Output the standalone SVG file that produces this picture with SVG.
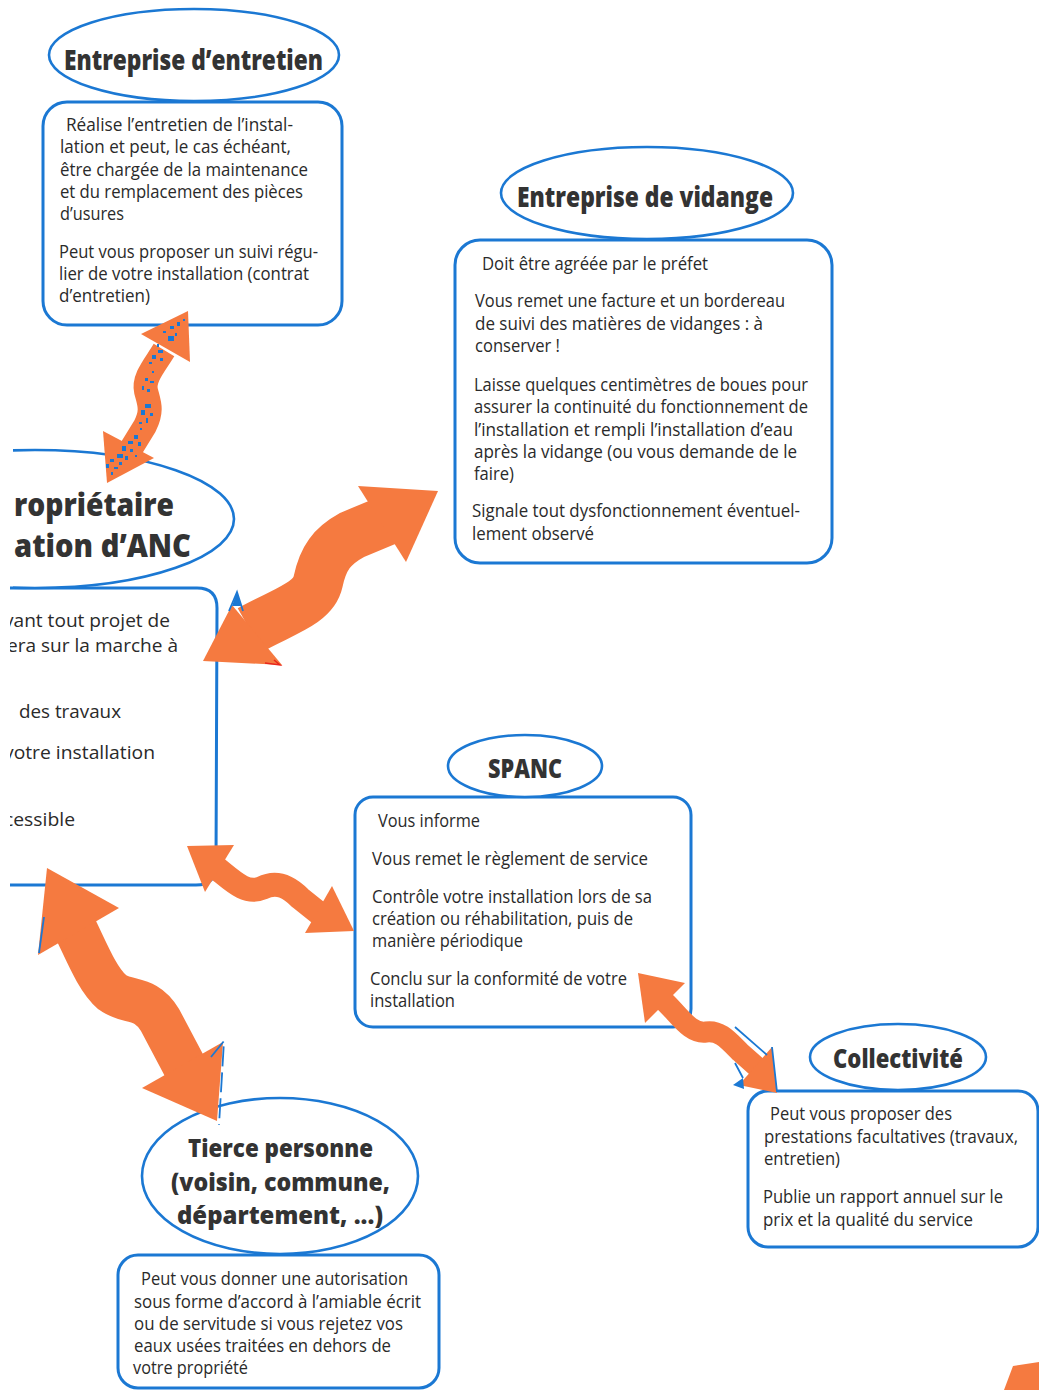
<svg xmlns="http://www.w3.org/2000/svg" width="1039" height="1390" viewBox="0 0 1039 1390">
<style>
.box{fill:#fff;stroke:#1b78d3;stroke-width:3}
.ell{fill:#fff;stroke:#1b78d3;stroke-width:2.6}
.t{font-family:"Open Sans","Liberation Sans",sans-serif;font-size:18px;fill:#2a2a2a}
.h{font-family:"Open Sans","Liberation Sans",sans-serif;font-weight:800;fill:#333}
.shaft{fill:none;stroke:#f57a40;stroke-linecap:butt;stroke-linejoin:round}
.head{fill:#f57a40}
.art{fill:none;stroke:#1b78d3;stroke-width:1.8}
.spk{fill:#1b78d3}
</style>
<defs>
<clipPath id="leftcut"><rect x="10" y="0" width="400" height="1390"/></clipPath>
<clipPath id="ellcut"><rect x="13" y="0" width="400" height="1390"/></clipPath>
</defs>
<rect width="1039" height="1390" fill="#fff"/>

<g id="entreprise-entretien">
  <rect class="box" x="43" y="102" width="299" height="223" rx="24"/>
  <ellipse class="ell" cx="194" cy="55" rx="145" ry="46"/>
  <text class="h" x="64" y="70" font-size="29" textLength="259" lengthAdjust="spacingAndGlyphs">Entreprise d’entretien</text>
  <text class="t" x="66" y="131" textLength="227" lengthAdjust="spacingAndGlyphs">Réalise l’entretien de l’instal-</text>
  <text class="t" x="60" y="153" textLength="231" lengthAdjust="spacingAndGlyphs">lation et peut, le cas échéant,</text>
  <text class="t" x="60" y="176" textLength="248" lengthAdjust="spacingAndGlyphs">être chargée de la maintenance</text>
  <text class="t" x="60" y="198" textLength="243" lengthAdjust="spacingAndGlyphs">et du remplacement des pièces</text>
  <text class="t" x="60" y="220" textLength="64" lengthAdjust="spacingAndGlyphs">d’usures</text>
  <text class="t" x="59" y="258" textLength="259" lengthAdjust="spacingAndGlyphs">Peut vous proposer un suivi régu-</text>
  <text class="t" x="59" y="280" textLength="250" lengthAdjust="spacingAndGlyphs">lier de votre installation (contrat</text>
  <text class="t" x="59" y="302" textLength="91" lengthAdjust="spacingAndGlyphs">d’entretien)</text>
</g>

<g id="entreprise-vidange">
  <rect class="box" x="455" y="240" width="377" height="323" rx="25"/>
  <ellipse class="ell" cx="647" cy="193" rx="146" ry="46"/>
  <text class="h" x="517" y="207" font-size="28" textLength="256" lengthAdjust="spacingAndGlyphs">Entreprise de vidange</text>
  <text class="t" x="482" y="270" textLength="226" lengthAdjust="spacingAndGlyphs">Doit être agréée par le préfet</text>
  <text class="t" x="475" y="307" textLength="310" lengthAdjust="spacingAndGlyphs">Vous remet une facture et un bordereau</text>
  <text class="t" x="475" y="330" textLength="288" lengthAdjust="spacingAndGlyphs">de suivi des matières de vidanges : à</text>
  <text class="t" x="475" y="352" textLength="85" lengthAdjust="spacingAndGlyphs">conserver !</text>
  <text class="t" x="474" y="391" textLength="334" lengthAdjust="spacingAndGlyphs">Laisse quelques centimètres de boues pour</text>
  <text class="t" x="474" y="413" textLength="334" lengthAdjust="spacingAndGlyphs">assurer la continuité du fonctionnement de</text>
  <text class="t" x="474" y="436" textLength="319" lengthAdjust="spacingAndGlyphs">l’installation et rempli l’installation d’eau</text>
  <text class="t" x="474" y="458" textLength="323" lengthAdjust="spacingAndGlyphs">après la vidange (ou vous demande de le</text>
  <text class="t" x="474" y="480" textLength="40" lengthAdjust="spacingAndGlyphs">faire)</text>
  <text class="t" x="472" y="517" textLength="328" lengthAdjust="spacingAndGlyphs">Signale tout dysfonctionnement éventuel-</text>
  <text class="t" x="472" y="540" textLength="122" lengthAdjust="spacingAndGlyphs">lement observé</text>
</g>

<g id="proprietaire">
  <path class="box" fill="none" d="M10,588 L197,588 Q217,588 217,608 L216,865 Q216,885 196,885 L10,885"/>
  <ellipse class="ell" fill="none" cx="35" cy="519" rx="199" ry="69" clip-path="url(#ellcut)"/>
  <text class="h" x="14" y="516" font-size="32" textLength="160" lengthAdjust="spacingAndGlyphs">ropriétaire</text>
  <text class="h" x="14" y="557" font-size="32" textLength="177" lengthAdjust="spacingAndGlyphs">ation d’ANC</text>
  <g clip-path="url(#leftcut)">
    <text class="t" x="4" y="627" textLength="166" lengthAdjust="spacingAndGlyphs">vant tout projet de</text>
    <text class="t" x="7" y="652" textLength="171" lengthAdjust="spacingAndGlyphs">era sur la marche à</text>
    <text class="t" x="19" y="718" textLength="102" lengthAdjust="spacingAndGlyphs">des travaux</text>
    <text class="t" x="4" y="759" textLength="151" lengthAdjust="spacingAndGlyphs">votre installation</text>
    <text class="t" x="4" y="826" textLength="71" lengthAdjust="spacingAndGlyphs">cessible</text>
  </g>
</g>

<g id="spanc">
  <rect class="box" x="355" y="797" width="336" height="230" rx="18"/>
  <ellipse class="ell" cx="525" cy="766" rx="77" ry="31"/>
  <text class="h" x="488" y="778" font-size="26" textLength="74" lengthAdjust="spacingAndGlyphs">SPANC</text>
  <text class="t" x="378" y="827" textLength="102" lengthAdjust="spacingAndGlyphs">Vous informe</text>
  <text class="t" x="372" y="865" textLength="276" lengthAdjust="spacingAndGlyphs">Vous remet le règlement de service</text>
  <text class="t" x="372" y="903" textLength="280" lengthAdjust="spacingAndGlyphs">Contrôle votre installation lors de sa</text>
  <text class="t" x="372" y="925" textLength="261" lengthAdjust="spacingAndGlyphs">création ou réhabilitation, puis de</text>
  <text class="t" x="372" y="947" textLength="151" lengthAdjust="spacingAndGlyphs">manière périodique</text>
  <text class="t" x="370" y="985" textLength="257" lengthAdjust="spacingAndGlyphs">Conclu sur la conformité de votre</text>
  <text class="t" x="370" y="1007" textLength="85" lengthAdjust="spacingAndGlyphs">installation</text>
</g>

<g id="collectivite">
  <rect class="box" x="748" y="1091" width="290" height="156" rx="20"/>
  <ellipse class="ell" cx="898" cy="1057" rx="88" ry="33"/>
  <text class="h" x="833" y="1068" font-size="27" textLength="130" lengthAdjust="spacingAndGlyphs">Collectivité</text>
  <text class="t" x="770" y="1120" textLength="182" lengthAdjust="spacingAndGlyphs">Peut vous proposer des</text>
  <text class="t" x="764" y="1143" textLength="254" lengthAdjust="spacingAndGlyphs">prestations facultatives (travaux,</text>
  <text class="t" x="764" y="1165" textLength="76" lengthAdjust="spacingAndGlyphs">entretien)</text>
  <text class="t" x="763" y="1203" textLength="240" lengthAdjust="spacingAndGlyphs">Publie un rapport annuel sur le</text>
  <text class="t" x="763" y="1226" textLength="210" lengthAdjust="spacingAndGlyphs">prix et la qualité du service</text>
</g>

<g id="tierce-personne">
  <rect class="box" x="118" y="1255" width="321" height="133" rx="20"/>
  <ellipse class="ell" cx="280" cy="1176" rx="138" ry="78"/>
  <text class="h" x="188" y="1157" font-size="25" textLength="185" lengthAdjust="spacingAndGlyphs">Tierce personne</text>
  <text class="h" x="171" y="1191" font-size="25" textLength="219" lengthAdjust="spacingAndGlyphs">(voisin, commune,</text>
  <text class="h" x="177" y="1224" font-size="25" textLength="206" lengthAdjust="spacingAndGlyphs">département, ...)</text>
  <text class="t" x="141" y="1285" textLength="267" lengthAdjust="spacingAndGlyphs">Peut vous donner une autorisation</text>
  <text class="t" x="134" y="1308" textLength="287" lengthAdjust="spacingAndGlyphs">sous forme d’accord à l’amiable écrit</text>
  <text class="t" x="134" y="1330" textLength="269" lengthAdjust="spacingAndGlyphs">ou de servitude si vous rejetez vos</text>
  <text class="t" x="134" y="1352" textLength="257" lengthAdjust="spacingAndGlyphs">eaux usées traitées en dehors de</text>
  <text class="t" x="133" y="1374" textLength="115" lengthAdjust="spacingAndGlyphs">votre propriété</text>
</g>

<g id="connectors">
  <g id="arrow-entretien">
    <path class="shaft" stroke-width="24" d="M164,350 C155,365 143,378 146,391 C149,403 153,410 145,426 L129,452"/>
    <polygon class="head" points="188,311 141,334 190,362"/>
    <polygon class="head" points="107,483 103,431 154,458"/>
    <g class="spk">
      <rect x="170" y="326" width="4" height="3"/><rect x="177" y="322" width="3" height="4"/><rect x="168" y="336" width="6" height="5"/>
      <rect x="163" y="331" width="3" height="2"/><rect x="175" y="333" width="2" height="3"/><rect x="183" y="319" width="2" height="2"/>
      <rect x="158" y="350" width="5" height="3"/><rect x="152" y="355" width="4" height="4"/><rect x="160" y="358" width="3" height="3"/>
      <rect x="149" y="362" width="3" height="2"/><rect x="157" y="344" width="2" height="3"/>
      <rect x="145" y="378" width="3" height="3"/><rect x="150" y="381" width="4" height="2"/><rect x="142" y="386" width="2" height="4"/>
      <rect x="147" y="389" width="3" height="3"/><rect x="152" y="371" width="2" height="2"/>
      <rect x="145" y="404" width="6" height="4"/><rect x="141" y="410" width="4" height="5"/><rect x="150" y="413" width="3" height="3"/>
      <rect x="146" y="418" width="2" height="5"/><rect x="139" y="422" width="3" height="2"/>
      <rect x="134" y="435" width="4" height="4"/><rect x="128" y="441" width="5" height="3"/><rect x="138" y="442" width="3" height="4"/>
      <rect x="122" y="446" width="4" height="5"/><rect x="130" y="449" width="3" height="3"/><rect x="117" y="454" width="6" height="4"/>
      <rect x="125" y="456" width="3" height="4"/><rect x="110" y="459" width="4" height="3"/><rect x="119" y="462" width="3" height="3"/>
      <rect x="106" y="464" width="3" height="4"/><rect x="114" y="467" width="4" height="2"/><rect x="135" y="455" width="2" height="2"/>
      <rect x="111" y="472" width="2" height="3"/><rect x="140" y="428" width="2" height="2"/>
    </g>
  </g>
  <g id="arrow-vidange">
    <path class="shaft" stroke-width="50" d="M250,630 C282,612 313,604 318,582 C323,558 332,546 352,535 L388,520"/>
    <polygon class="head" points="438,491 358,486 406,562"/>
    <polygon class="head" points="203,661 232,605 282,665"/>
  </g>
  <g id="arrow-spanc">
    <path class="shaft" stroke-width="24" d="M214,866 C232,880 245,895 262,888 C278,880 290,888 300,898 L320,914"/>
    <polygon class="head" points="187,846 234,845 205,892"/>
    <polygon class="head" points="354,931 332,886 305,933"/>
  </g>
  <g id="arrow-tierce">
    <path class="shaft" stroke-width="44" d="M75,928 C88,955 98,980 112,992 C128,1004 145,995 160,1020 L187,1071"/>
    <polygon class="head" points="47,868 119,908 38,955"/>
    <polygon class="head" points="217,1121 142,1088 223,1042"/>
  </g>
  <g id="arrow-collectivite">
    <path class="shaft" stroke-width="21" d="M664,1001 C680,1016 690,1034 706,1032 C720,1030 728,1040 740,1052 L758,1068"/>
    <polygon class="head" points="638,973 685,983 645,1023"/>
    <polygon class="head" points="777,1093 772,1047 739,1085"/>
  </g>
  <polygon class="head" points="1013,1366 1039,1362 1039,1390 1004,1390"/>
  <g id="artifacts">
    <polygon class="spk" points="232,606 237,592 241,606"/>
    <path class="art" d="M229,611 L237,592 L243,611"/>
    <path d="M265,663 L280,665 L274,660" fill="none" stroke="#e8261c" stroke-width="1.5"/>
    <path class="art" d="M44,917 L39,953"/>
    <path class="art" d="M211,1057 L224,1041 L219,1125" stroke-dasharray="20 6"/>
    <path class="art" d="M735,1027 L767,1055 M772,1047 L777,1092 M735,1063 L743,1078"/>
    <polygon class="spk" points="733,1085 743,1078 744,1089"/>
  </g>
</g>
</svg>
